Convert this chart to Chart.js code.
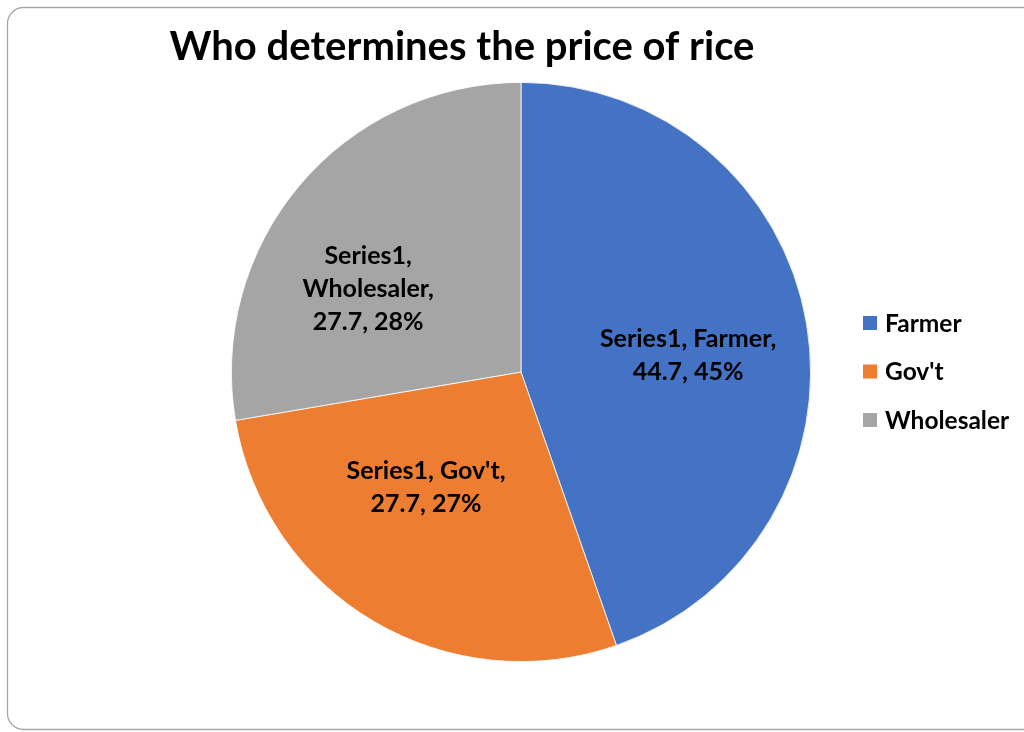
<!DOCTYPE html>
<html>
<head>
<meta charset="utf-8">
<script src="https://cdn.jsdelivr.net/npm/chart.js@4.4.1/dist/chart.umd.min.js"></script>
<style>
html,body{margin:0;padding:0;background:#fff;}
#wrap{position:relative;width:1024px;height:732px;}
</style>
</head>
<body>
<div id="wrap"><canvas id="c" width="1024" height="732"></canvas></div>
<script>
const chartTitle = "Who determines the price of rice";
const seriesName = "Series1";
const categories = ["Farmer", "Gov't", "Wholesaler"];
const values = [44.7, 27.7, 27.7];
const percentLabels = ["45%", "27%", "28%"];
const colors = ["#4472C4", "#ED7D31", "#A5A5A5"];
// label placement: radial fraction and angular shift (degrees) from slice middle
const labelRadial = [0.58, 0.517, 0.6];
const labelShift = [3.8, 8.8, -11.8];
const labelLines = [
  [seriesName + ", " + categories[0] + ",", values[0] + ", " + percentLabels[0]],
  [seriesName + ", " + categories[1] + ",", values[1] + ", " + percentLabels[1]],
  [seriesName + ",", categories[2] + ",", values[2] + ", " + percentLabels[2]]
];

const FONT = "Lato, 'Open Sans', sans-serif";

const framePlugin = {
  id: 'frame',
  beforeDraw(chart) {
    const ctx = chart.ctx;
    ctx.save();
    ctx.fillStyle = '#fff';
    ctx.fillRect(0, 0, chart.width, chart.height);
    const x = 7.5, y = 7.5, w = 1040, h = 722, r = 16;
    ctx.beginPath();
    ctx.moveTo(x + r, y);
    ctx.lineTo(x + w - r, y);
    ctx.arcTo(x + w, y, x + w, y + r, r);
    ctx.lineTo(x + w, y + h - r);
    ctx.arcTo(x + w, y + h, x + w - r, y + h, r);
    ctx.lineTo(x + r, y + h);
    ctx.arcTo(x, y + h, x, y + h - r, r);
    ctx.lineTo(x, y + r);
    ctx.arcTo(x, y, x + r, y, r);
    ctx.closePath();
    ctx.strokeStyle = '#a6a6a6';
    ctx.lineWidth = 1.3;
    ctx.stroke();
    ctx.restore();
  },
  afterDraw(chart) {
    const ctx = chart.ctx;
    ctx.save();
    // title
    ctx.fillStyle = '#000';
    ctx.font = "bold 40px " + FONT;
    ctx.textAlign = 'center';
    ctx.textBaseline = 'middle';
    ctx.fillText(chartTitle, 462, 47);
    // slice labels
    const meta = chart.getDatasetMeta(0);
    ctx.font = "bold 25px " + FONT;
    meta.data.forEach((arc, i) => {
      const p = arc.getProps(['x', 'y', 'startAngle', 'endAngle', 'outerRadius'], true);
      const mid = (p.startAngle + p.endAngle) / 2 + labelShift[i] * Math.PI / 180;
      const rr = p.outerRadius * labelRadial[i];
      const cx = p.x + Math.cos(mid) * rr;
      const cy = p.y + Math.sin(mid) * rr;
      const lines = labelLines[i];
      const lh = 33;
      lines.forEach((t, k) => {
        ctx.fillText(t, cx, cy + (k - (lines.length - 1) / 2) * lh);
      });
    });
    // legend
    ctx.textAlign = 'left';
    ctx.font = "bold 24.5px " + FONT;
    const ly0 = 323, lstep = 48.5;
    categories.forEach((c, i) => {
      const yy = ly0 + i * lstep;
      ctx.fillStyle = colors[i];
      ctx.fillRect(863, yy - 7, 14, 14);
      ctx.fillStyle = '#000';
      ctx.fillText(c, 885, yy + 1);
    });
    ctx.restore();
  }
};

new Chart(document.getElementById('c'), {
  type: 'pie',
  data: {
    labels: categories,
    datasets: [{
      label: seriesName,
      data: values,
      backgroundColor: colors,
      borderColor: '#ffffff',
      borderWidth: 0.8
    }]
  },
  options: {
    responsive: false,
    animation: false,
    layout: { padding: { top: 82, bottom: 70, left: 231, right: 213 } },
    plugins: {
      legend: { display: false },
      title: { display: false },
      tooltip: { enabled: false }
    }
  },
  plugins: [framePlugin]
});
</script>
</body>
</html>
